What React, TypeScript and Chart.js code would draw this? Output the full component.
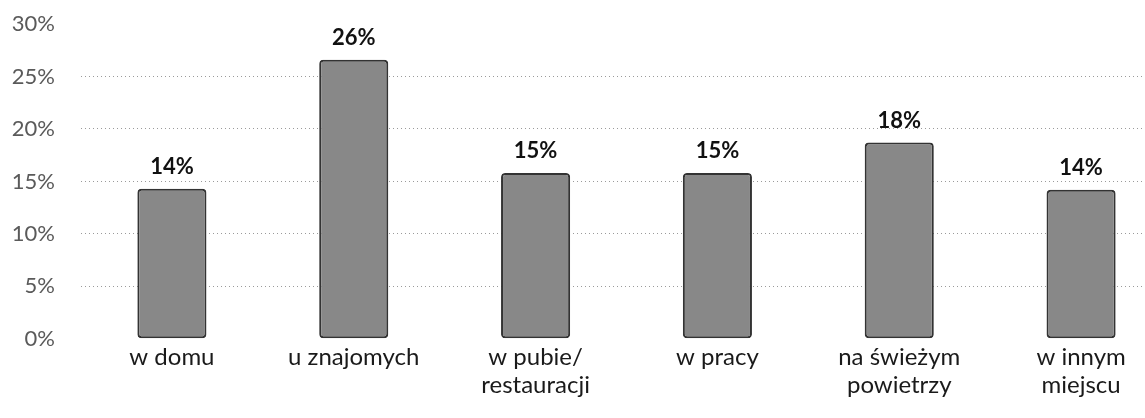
import React, { useEffect, useRef } from "react";
import { Chart, registerables } from "chart.js";

Chart.register(...registerables);

const categories: string[][] = [
  ["w domu"],
  ["u znajomych"],
  ["w pubie/", "restauracji"],
  ["w pracy"],
  ["na świeżym", "powietrzy"],
  ["w innym", "miejscu"],
];
const values: number[] = [14.3, 26.6, 15.8, 15.8, 18.7, 14.2];
const valueLabels: string[] = ["14%", "26%", "15%", "15%", "18%", "14%"];
const yTicks: number[] = [0, 5, 10, 15, 20, 25, 30];

const FONT = "Lato, 'Open Sans', 'DejaVu Sans', sans-serif";

const barLabelPlugin = {
  id: "barLabels",
  afterDatasetsDraw(chart: any) {
    const ctx = chart.ctx;
    const meta = chart.getDatasetMeta(0);
    ctx.save();
    ctx.font = `bold 22px ${FONT}`;
    ctx.fillStyle = "#111111";
    ctx.textAlign = "center";
    ctx.textBaseline = "alphabetic";
    meta.data.forEach((bar: any, i: number) => {
      ctx.fillText(valueLabels[i], bar.x, bar.y - 15);
    });
    ctx.restore();
  },
};

export default function App() {
  const canvasRef = useRef<HTMLCanvasElement | null>(null);

  useEffect(() => {
    if (!canvasRef.current) return;
    const chart = new Chart(canvasRef.current, {
      type: "bar",
      data: {
        labels: categories,
        datasets: [
          {
            data: values,
            backgroundColor: "#888888",
            borderColor: "#333333",
            borderWidth: 2,
            borderRadius: 4,
            borderSkipped: false,
            barPercentage: 0.38,
            categoryPercentage: 1,
          },
        ],
      },
      options: {
        animation: false,
        responsive: true,
        maintainAspectRatio: false,
        layout: { padding: { top: 24, bottom: 15, left: 0, right: 18 } },
        plugins: {
          legend: { display: false },
          tooltip: { enabled: false },
        },
        scales: {
          x: {
            grid: { display: false, drawTicks: false },
            border: { display: false },
            ticks: {
              color: "#1a1a1a",
              font: { family: FONT, size: 24, lineHeight: 1.17 },
              padding: 4,
              maxRotation: 0,
              autoSkip: false,
            },
          },
          y: {
            min: 0,
            max: 30,
            afterFit: (scale: any) => {
              scale.width = 81;
              scale.paddingTop = 12;
              scale.paddingBottom = 12;
            },
            afterBuildTicks: (scale: any) => {
              scale.ticks = yTicks.map((v) => ({ value: v }));
            },
            grid: {
              drawTicks: false,
              color: (c: any) =>
                c.tick && (c.tick.value === 0 || c.tick.value === 30)
                  ? "rgba(0,0,0,0)"
                  : "#9a9a9a",
              lineWidth: 1,
            },
            border: { display: false, dash: [1, 3] },
            ticks: {
              color: "#5a5a5a",
              font: { family: FONT, size: 22 },
              padding: 26,
              callback: (v: any) => `${v}%`,
            },
          },
        },
      },
      plugins: [barLabelPlugin],
    });
    return () => chart.destroy();
  }, []);

  return (
    <div
      style={{
        position: "fixed",
        left: 0,
        top: 0,
        width: 1145,
        height: 418,
        overflow: "hidden",
        background: "#ffffff",
      }}
    >
      <div style={{ position: "relative", width: 1190, height: 418 }}>
        <canvas ref={canvasRef} />
      </div>
    </div>
  );
}
